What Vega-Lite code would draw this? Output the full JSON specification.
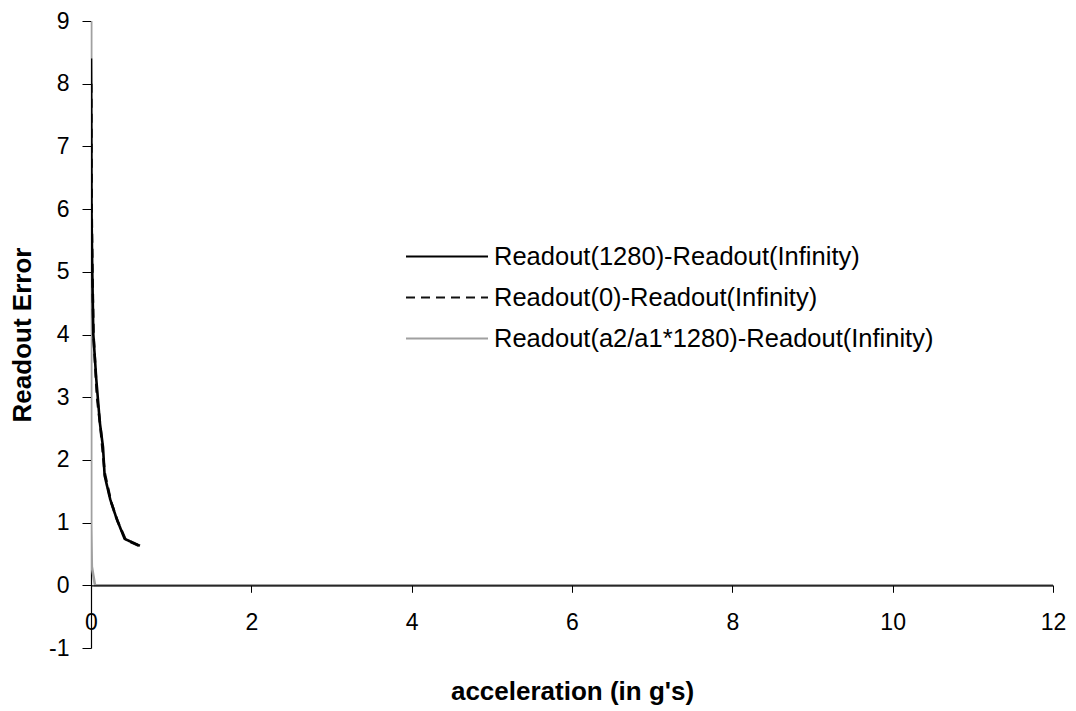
{
  "$schema": "https://vega.github.io/schema/vega-lite/v6.json",
  "width": 962,
  "height": 627,
  "autosize": {"type": "none"},
  "padding": {"left": 91, "top": 21, "right": 23, "bottom": 63},
  "background": "white",
  "config": {
    "view": {"stroke": null},
    "font": "Liberation Sans"
  },
  "data": {
    "values": [
      {"a": 0.0, "err": 9.0, "s": "Readout(a2/a1*1280)-Readout(Infinity)"},
      {"a": 0.0, "err": 6.0, "s": "Readout(a2/a1*1280)-Readout(Infinity)"},
      {"a": 0.0, "err": 3.0, "s": "Readout(a2/a1*1280)-Readout(Infinity)"},
      {"a": 0.0, "err": 1.0, "s": "Readout(a2/a1*1280)-Readout(Infinity)"},
      {"a": 0.01, "err": 0.3, "s": "Readout(a2/a1*1280)-Readout(Infinity)"},
      {"a": 0.05, "err": 0.0, "s": "Readout(a2/a1*1280)-Readout(Infinity)"},
      {"a": 12.0, "err": 0.0, "s": "Readout(a2/a1*1280)-Readout(Infinity)"},

      {"a": 0.003, "err": 8.0, "s": "Readout(0)-Readout(Infinity)"},
      {"a": 0.005, "err": 7.0, "s": "Readout(0)-Readout(Infinity)"},
      {"a": 0.008, "err": 6.0, "s": "Readout(0)-Readout(Infinity)"},
      {"a": 0.018, "err": 5.0, "s": "Readout(0)-Readout(Infinity)"},
      {"a": 0.031, "err": 4.0, "s": "Readout(0)-Readout(Infinity)"},
      {"a": 0.075, "err": 3.0, "s": "Readout(0)-Readout(Infinity)"},
      {"a": 0.12, "err": 2.5, "s": "Readout(0)-Readout(Infinity)"},
      {"a": 0.17, "err": 1.8, "s": "Readout(0)-Readout(Infinity)"},
      {"a": 0.25, "err": 1.33, "s": "Readout(0)-Readout(Infinity)"},
      {"a": 0.33, "err": 1.03, "s": "Readout(0)-Readout(Infinity)"},
      {"a": 0.43, "err": 0.73, "s": "Readout(0)-Readout(Infinity)"},
      {"a": 0.6, "err": 0.63, "s": "Readout(0)-Readout(Infinity)"},

      {"a": 0.0, "err": 8.4, "s": "Readout(1280)-Readout(Infinity)"},
      {"a": 0.004, "err": 7.2, "s": "Readout(1280)-Readout(Infinity)"},
      {"a": 0.006, "err": 6.0, "s": "Readout(1280)-Readout(Infinity)"},
      {"a": 0.016, "err": 5.0, "s": "Readout(1280)-Readout(Infinity)"},
      {"a": 0.029, "err": 4.0, "s": "Readout(1280)-Readout(Infinity)"},
      {"a": 0.065, "err": 3.3, "s": "Readout(1280)-Readout(Infinity)"},
      {"a": 0.11, "err": 2.6, "s": "Readout(1280)-Readout(Infinity)"},
      {"a": 0.15, "err": 2.2, "s": "Readout(1280)-Readout(Infinity)"},
      {"a": 0.17, "err": 1.75, "s": "Readout(1280)-Readout(Infinity)"},
      {"a": 0.24, "err": 1.37, "s": "Readout(1280)-Readout(Infinity)"},
      {"a": 0.32, "err": 1.06, "s": "Readout(1280)-Readout(Infinity)"},
      {"a": 0.42, "err": 0.74, "s": "Readout(1280)-Readout(Infinity)"},
      {"a": 0.61, "err": 0.63, "s": "Readout(1280)-Readout(Infinity)"}
    ]
  },
  "mark": {"type": "line", "strokeWidth": 2.6, "clip": true},
  "encoding": {
    "x": {
      "field": "a",
      "type": "quantitative",
      "scale": {"domain": [0, 12], "nice": false, "zero": false},
      "axis": {
        "title": "acceleration (in g's)",
        "values": [0, 2, 4, 6, 8, 10, 12],
        "offset": -62.7,
        "grid": false,
        "domainColor": "black",
        "domainWidth": 1.3,
        "tickColor": "black",
        "tickSize": 7,
        "tickWidth": 1,
        "labelPadding": 19,
        "labelFontSize": 23,
        "labelColor": "black",
        "labelFont": "Liberation Sans",
        "labelFlush": false,
        "titleFontSize": 26,
        "titleFontWeight": "bold",
        "titleColor": "black",
        "titleFont": "Liberation Sans",
        "titlePadding": 44,
        "zindex": 1
      }
    },
    "y": {
      "field": "err",
      "type": "quantitative",
      "scale": {"domain": [-1, 9], "nice": false, "zero": false},
      "axis": {
        "title": "Readout Error",
        "values": [-1, 0, 1, 2, 3, 4, 5, 6, 7, 8, 9],
        "labelExpr": "replace(datum.label, '−', '-')",
        "grid": false,
        "domainColor": "black",
        "domainWidth": 1.2,
        "tickColor": "black",
        "tickSize": 9,
        "tickWidth": 1,
        "labelPadding": 13,
        "labelFontSize": 23,
        "labelColor": "black",
        "labelFont": "Liberation Sans",
        "labelFlush": false,
        "titleFontSize": 26,
        "titleFontWeight": "bold",
        "titleColor": "black",
        "titleFont": "Liberation Sans",
        "titlePadding": 13,
        "zindex": 0
      }
    },
    "color": {
      "field": "s",
      "type": "nominal",
      "sort": ["Readout(1280)-Readout(Infinity)", "Readout(0)-Readout(Infinity)", "Readout(a2/a1*1280)-Readout(Infinity)"],
      "scale": {
        "domain": ["Readout(1280)-Readout(Infinity)", "Readout(0)-Readout(Infinity)", "Readout(a2/a1*1280)-Readout(Infinity)"],
        "range": ["#000000", "#111111", "#a0a0a0"]
      },
      "legend": {
        "title": null,
        "orient": "none",
        "legendX": 314,
        "legendY": 216,
        "symbolType": "stroke",
        "symbolSize": 6724,
        "symbolStrokeWidth": 2,
        "clipHeight": 39,
        "rowPadding": 2,
        "labelFontSize": 25.5,
        "labelColor": "black",
        "labelFont": "Liberation Sans",
        "labelOffset": 5,
        "labelLimit": 700
      }
    },
    "strokeDash": {
      "field": "s",
      "type": "nominal",
      "sort": ["Readout(1280)-Readout(Infinity)", "Readout(0)-Readout(Infinity)", "Readout(a2/a1*1280)-Readout(Infinity)"],
      "scale": {
        "domain": ["Readout(1280)-Readout(Infinity)", "Readout(0)-Readout(Infinity)", "Readout(a2/a1*1280)-Readout(Infinity)"],
        "range": [[1, 0], [9, 6], [1, 0]]
      },
      "legend": null
    },
    "order": {"field": "a", "type": "quantitative"}
  }
}
